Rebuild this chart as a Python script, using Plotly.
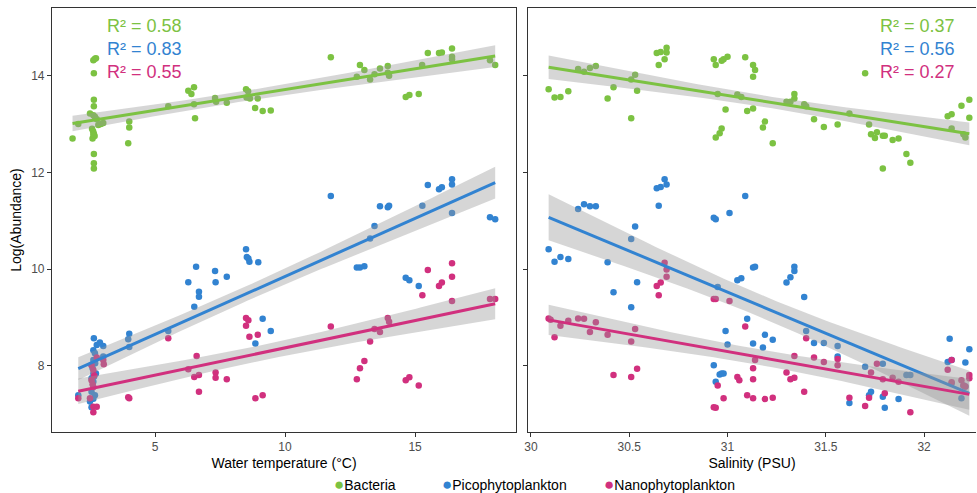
import numpy as np
import plotly.graph_objects as go

# ---------------- data ----------------
groups = ["Bacteria", "Picophytoplankton", "Nanophytoplankton"]
colors = ["#7CC242", "#3283D1", "#D1307E"]
r2_temp = ["0.58", "0.83", "0.55"]
r2_sal = ["0.37", "0.56", "0.27"]

temp_bact_x = [1.83, 2.05, 2.63, 2.69, 2.73, 2.65, 2.65, 2.65, 2.50, 2.63, 2.69, 2.76, 2.58, 2.62, 2.65, 2.68, 2.60, 2.63,
               2.65, 2.65, 2.65, 2.82, 2.92, 3.01, 4.01, 4.01, 3.97, 5.51, 6.28, 6.40, 6.50, 6.50, 6.54, 7.31, 7.35,
               7.76, 8.50, 8.58, 8.52, 8.65, 8.95, 8.85, 9.14, 9.45, 11.76, 12.76, 12.88, 13.05, 13.27, 13.44, 13.65,
               13.95, 13.95, 14.00, 14.64, 14.78, 15.14, 15.27, 15.49, 15.92, 16.03, 16.42, 16.42, 16.42, 17.88, 18.08]
temp_bact_y = [12.70, 13.00, 14.32, 14.35, 14.36, 14.05, 13.50, 13.37, 13.22, 13.18, 13.15, 13.10, 12.90, 12.85, 12.80,
               12.75, 12.70, 12.78, 12.38, 12.19, 12.08, 12.98, 13.00, 13.02, 13.05, 12.93, 12.60, 13.37, 13.69, 13.62,
               13.76, 13.41, 13.12, 13.54, 13.46, 13.44, 13.72, 13.68, 13.55, 13.53, 13.53, 13.33, 13.27, 13.28, 14.38,
               13.98, 14.22, 14.12, 13.92, 14.03, 14.15, 14.20, 14.06, 14.00, 13.56, 13.60, 13.62, 14.22, 14.47, 14.47,
               14.48, 14.56, 14.39, 14.34, 14.32, 14.22]

temp_pico_x = [2.05, 2.65, 2.76, 2.88, 3.01, 2.63, 2.69, 3.01, 2.63, 2.56, 2.63, 2.73, 2.56, 2.63, 2.56, 2.69, 2.63,
               2.50, 2.56, 2.60, 2.66, 2.70, 4.01, 3.97, 4.01, 5.51, 6.28, 6.51, 6.58, 6.69, 6.69, 7.31, 7.33, 7.76,
               8.50, 8.53, 8.59, 8.63, 8.97, 8.86, 9.14, 9.45, 11.76, 12.76, 12.88, 13.05, 13.27, 13.44, 13.65, 13.95,
               14.00, 14.64, 14.78, 15.14, 15.28, 15.49, 15.92, 16.03, 16.42, 16.42, 16.42, 17.88, 18.08]
temp_pico_y = [7.39, 8.57, 8.43, 8.48, 8.41, 8.32, 8.26, 8.19, 8.12, 8.02, 7.84, 7.84, 7.74, 7.67, 7.46, 7.39, 7.32,
               7.26, 7.14, 7.95, 7.78, 8.05, 8.66, 8.55, 8.39, 8.72, 9.73, 9.22, 10.05, 9.53, 9.43, 9.96, 9.73, 9.84,
               10.41, 10.25, 10.22, 10.15, 10.14, 8.46, 8.97, 8.72, 11.51, 10.03, 10.03, 10.06, 10.63, 10.89, 11.30,
               11.28, 11.31, 9.82, 9.77, 9.65, 11.31, 11.74, 11.65, 11.69, 11.86, 11.75, 11.16, 11.07, 11.03]

temp_nano_x = [2.05, 2.50, 2.63, 2.76, 2.63, 2.56, 2.63, 2.63, 2.56, 2.76, 3.01, 3.03, 2.66, 2.60, 3.97, 4.01, 5.51,
               6.28, 6.60, 6.51, 6.69, 6.69, 7.33, 7.33, 7.76, 8.50, 8.59, 8.50, 8.63, 8.95, 8.86, 9.14, 11.76, 12.76,
               12.88, 13.05, 13.27, 13.44, 13.65, 13.95, 14.00, 14.64, 14.78, 15.14, 15.28, 15.49, 15.92, 16.03, 16.42,
               16.42, 16.42, 17.88, 18.08]
temp_nano_y = [7.33, 7.33, 7.15, 7.15, 7.04, 7.70, 7.56, 7.91, 8.01, 8.17, 8.12, 8.03, 7.80, 7.62, 7.35, 7.33, 8.57,
               7.93, 8.20, 7.77, 7.81, 7.46, 7.86, 7.75, 7.72, 8.99, 8.94, 8.83, 8.60, 8.64, 7.33, 7.39, 8.81, 7.72,
               7.95, 8.10, 8.50, 8.76, 8.70, 8.99, 8.91, 7.70, 7.76, 7.59, 9.46, 9.98, 9.65, 9.72, 10.12, 9.84, 9.34,
               9.38, 9.38]

sal_bact_x = [30.09, 30.12, 30.15, 30.19, 30.24, 30.27, 30.30, 30.33, 30.39, 30.42, 30.51, 30.51, 30.53, 30.54, 30.64,
              30.66, 30.69, 30.69, 30.65, 30.68, 30.93, 30.94, 30.97, 30.98, 31.00, 31.09, 31.13, 31.14, 31.13, 30.95,
              31.05, 31.07, 30.99, 31.10, 31.13, 30.97, 30.96, 30.94, 31.19, 31.18, 31.23, 31.30, 31.32, 31.34, 31.34,
              31.39, 31.40, 31.44, 31.49, 31.56, 31.62, 31.70, 31.72, 31.73, 31.75, 31.76, 31.79, 31.80, 31.79, 31.84,
              31.87, 31.91, 31.93, 32.12, 32.14, 32.14, 32.19, 32.23, 32.23, 32.20, 32.21]
sal_bact_y = [13.72, 13.55, 13.56, 13.68, 14.14, 14.08, 14.16, 14.20, 13.53, 13.76, 13.92, 13.12, 14.02, 13.69, 14.47,
              14.49, 14.58, 14.48, 14.22, 14.34, 14.34, 14.22, 14.31, 14.34, 14.39, 14.38, 14.22, 14.12, 13.98, 13.62,
              13.61, 13.56, 13.30, 13.27, 13.32, 12.91, 12.81, 12.72, 13.05, 12.93, 12.60, 13.46, 13.46, 13.62, 13.53,
              13.41, 13.37, 13.10, 12.94, 12.99, 13.22, 14.05, 12.99, 12.79, 12.71, 12.83, 12.76, 12.76, 12.08, 12.67,
              12.70, 12.38, 12.20, 13.16, 13.20, 12.91, 13.38, 13.50, 13.13, 12.79, 12.72]

sal_pico_x = [30.64, 30.66, 30.68, 30.69, 31.09, 30.65, 30.24, 30.27, 30.30, 30.33, 30.53, 30.51, 30.93, 30.94, 31.01,
              30.09, 30.12, 30.15, 30.19, 30.39, 30.42, 30.54, 30.51, 30.95, 31.05, 31.07, 31.13, 31.14, 31.30, 31.32,
              31.34, 31.34, 31.39, 31.10, 30.99, 31.00, 31.13, 31.18, 31.19, 31.23, 31.40, 31.44, 31.49, 31.56, 31.56,
              30.93, 30.96, 30.97, 30.98, 30.94, 31.62, 31.70, 31.72, 31.73, 31.79, 31.79, 31.80, 31.87, 31.91, 31.93,
              32.13, 32.12, 32.14, 32.14, 32.19, 32.20, 32.21, 32.21, 32.23]
sal_pico_y = [11.67, 11.70, 11.86, 11.75, 11.51, 11.31, 11.24, 11.34, 11.30, 11.30, 10.88, 10.62, 11.06, 11.03, 11.16,
              10.41, 10.15, 10.25, 10.21, 10.14, 9.52, 9.73, 9.21, 9.63, 9.77, 9.81, 10.03, 10.05, 9.72, 9.83,
              9.96, 10.05, 9.42, 8.97, 8.72, 8.44, 8.46, 8.38, 8.64, 8.54, 8.72, 8.47, 8.47, 8.41, 8.19,
              8.01, 7.82, 7.84, 7.84, 7.67, 7.23, 7.98, 7.39, 7.46, 7.36, 8.04, 7.13, 7.31, 7.81, 7.81,
              8.56, 8.08, 8.12, 7.64, 7.33, 7.59, 7.57, 8.07, 8.34]

sal_nano_x = [30.09, 30.10, 30.12, 30.15, 30.19, 30.24, 30.27, 30.30, 30.33, 30.39, 30.42, 30.51, 30.53, 30.51, 30.54,
              30.64, 30.66, 30.65, 30.68, 30.69, 30.69, 30.93, 30.94, 31.01, 30.93, 30.94, 30.95, 30.98, 31.05, 31.06,
              31.09, 31.10, 31.13, 31.13, 31.13, 31.14, 31.19, 31.23, 31.30, 31.32, 31.34, 31.34, 31.39, 31.40, 31.44,
              31.49, 31.56, 31.56, 31.62, 31.70, 31.72, 31.73, 31.76, 31.79, 31.80, 31.84, 31.87, 31.93, 32.12, 32.14,
              32.14, 32.19, 32.20, 32.21, 32.23, 32.23]
sal_nano_y = [8.98, 8.95, 8.59, 8.83, 8.93, 8.98, 8.97, 8.70, 8.90, 8.64, 7.81, 8.50, 8.76, 7.77, 7.94,
              9.65, 9.72, 9.46, 10.13, 9.99, 9.84, 9.38, 9.38, 9.34, 7.14, 7.13, 7.59, 7.33, 7.77, 7.70,
              8.81, 7.39, 7.95, 7.72, 7.33, 8.12, 7.31, 7.34, 7.86, 7.72, 7.75, 8.20, 7.46, 8.57, 8.17,
              8.08, 8.14, 8.01, 7.34, 7.17, 7.34, 7.86, 8.04, 7.72, 7.43, 7.75, 7.67, 7.04, 7.92, 8.12,
              7.66, 7.70, 7.59, 7.57, 7.81, 7.74]

temp_data = [(temp_bact_x, temp_bact_y), (temp_pico_x, temp_pico_y), (temp_nano_x, temp_nano_y)]
sal_data = [(sal_bact_x, sal_bact_y), (sal_pico_x, sal_pico_y), (sal_nano_x, sal_nano_y)]

temp_ticks = [5, 10, 15]
sal_ticks = [30, 30.5, 31, 31.5, 32]
sal_ticktext = ["30", "30.5", "31", "31.5", "32"]
y_ticks = [8, 10, 12, 14]

FONT = "Liberation Sans, Arial, Helvetica, sans-serif"
T975 = 1.99  # t quantile for the 95% confidence band


def fit_band(x, y, npts=80):
    x = np.asarray(x, float)
    y = np.asarray(y, float)
    n = len(x)
    b, a = np.polyfit(x, y, 1)
    resid = y - (a + b * x)
    s = np.sqrt(np.sum(resid ** 2) / (n - 2))
    xm = x.mean()
    sxx = np.sum((x - xm) ** 2)
    xg = np.linspace(x.min(), x.max(), npts)
    yg = a + b * xg
    se = s * np.sqrt(1.0 / n + (xg - xm) ** 2 / sxx)
    return xg, yg, yg - T975 * se, yg + T975 * se


fig = go.Figure()

for data, xa, ya in [(temp_data, "x", "y"), (sal_data, "x2", "y2")]:
    for (gx, gy), name, col in zip(data, groups, colors):
        fig.add_trace(go.Scatter(x=gx, y=gy, mode="markers", name=name, showlegend=False,
                                 marker=dict(color=col, size=6.5, line=dict(width=0)),
                                 xaxis=xa, yaxis=ya))
    for (gx, gy), name, col in zip(data, groups, colors):
        xg, yg, lo, hi = fit_band(gx, gy)
        fig.add_trace(go.Scatter(x=np.concatenate([xg, xg[::-1]]), y=np.concatenate([hi, lo[::-1]]),
                                 fill="toself", fillcolor="rgba(153,153,153,0.4)", line=dict(width=0),
                                 mode="lines", hoverinfo="skip", showlegend=False, xaxis=xa, yaxis=ya))
        fig.add_trace(go.Scatter(x=xg, y=yg, mode="lines", line=dict(color=col, width=3),
                                 showlegend=False, hoverinfo="skip", xaxis=xa, yaxis=ya))

axis_common = dict(showline=True, linecolor="#333333", linewidth=1.1, ticks="outside", ticklen=4,
                   tickcolor="#333333", tickwidth=1.1, showgrid=False, zeroline=False,
                   tickfont=dict(family=FONT, size=12, color="#4D4D4D"))

L, R, T, B = 52, 1, 8, 61
W, H = 977, 493
pw = W - L - R
dom1 = [0, (516 - L) / pw]
dom2 = [(528 - L) / pw, 1]

fig.update_layout(
    width=W, height=H,
    margin=dict(l=L, r=R, t=T, b=B),
    paper_bgcolor="white", plot_bgcolor="white",
    font=dict(family=FONT, size=12, color="black"),
    showlegend=False,
    xaxis=dict(domain=dom1, range=[1.04, 18.88], tickvals=temp_ticks, mirror=True,
               title=dict(text="Water temperature (°C)", font=dict(family=FONT, size=14, color="black"), standoff=4),
               anchor="y", **axis_common),
    yaxis=dict(domain=[0, 1], range=[6.63, 15.40], tickvals=y_ticks, mirror=True, anchor="x",
               title=dict(text="Log(Abundance)", font=dict(family=FONT, size=14, color="black"), standoff=6),
               **axis_common),
    xaxis2=dict(domain=dom2, range=[29.985, 32.264], tickvals=sal_ticks, ticktext=sal_ticktext, mirror=True,
                title=dict(text="Salinity (PSU)", font=dict(family=FONT, size=14, color="black"), standoff=4),
                anchor="y2", **axis_common),
    yaxis2=dict(domain=[0, 1], range=[6.63, 15.40], tickvals=y_ticks, showticklabels=False, anchor="x2",
                mirror=False, **axis_common),
)

# R² annotations
ph = H - T - B
for i, (col, v1, v2) in enumerate(zip(colors, r2_temp, r2_sal)):
    ypx = 26 + 23 * i
    yp = 1 - (ypx - T) / ph
    fig.add_annotation(x=(105 - L) / pw, y=yp, xref="paper", yref="paper", xanchor="left", yanchor="middle",
                       text=f"R² = {v1}", showarrow=False,
                       font=dict(family=FONT, size=18, color=col))
    fig.add_annotation(x=(957 - L) / pw, y=yp, xref="paper", yref="paper", xanchor="right", yanchor="middle",
                       text=f"R² = {v2}", showarrow=False,
                       font=dict(family=FONT, size=18, color=col))

# legend (bottom, centred)
leg_x = [332, 440, 602]
for name, col, lx in zip(groups, colors, leg_x):
    fig.add_annotation(x=(lx - L) / pw, y=-(484 - (H - B)) / ph, xref="paper", yref="paper",
                       xanchor="left", yanchor="middle", showarrow=False,
                       text=f'<span style="color:{col};font-size:17px">●</span>{name}',
                       font=dict(family=FONT, size=14, color="black"))

fig.write_html("out.html", config={"displayModeBar": False},
               post_script="document.body.style.margin='0';document.body.style.overflow='hidden';")
